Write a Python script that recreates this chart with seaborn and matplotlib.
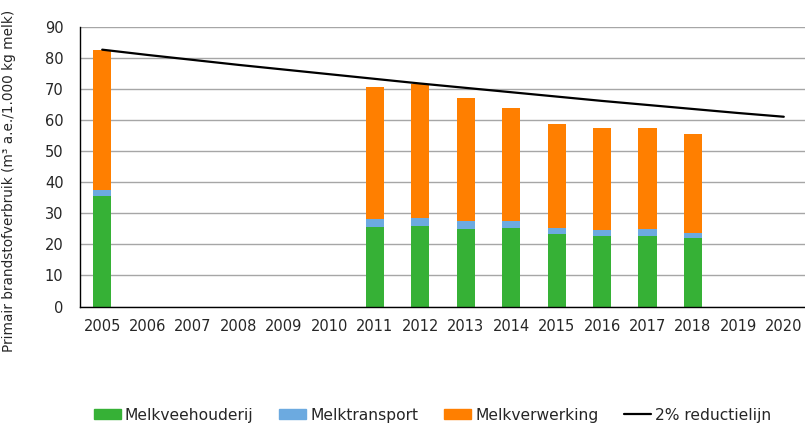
import matplotlib
matplotlib.use('Agg')
import matplotlib.pyplot as plt
import matplotlib.patches as mpatches
import matplotlib.lines as mlines
import numpy as np
import pandas as pd
import seaborn as sns

# data
jaren = [2005, 2011, 2012, 2013, 2014, 2015, 2016, 2017, 2018]
melkveehouderij = [35.6, 25.7, 26.0, 25.0, 25.4, 23.3, 22.8, 22.8, 21.9]
melktransport = [2.0, 2.4, 2.4, 2.5, 2.1, 2.1, 1.9, 2.2, 1.7]
melkverwerking = [45.1, 42.7, 43.3, 39.6, 36.5, 33.5, 32.8, 32.5, 31.9]

lijn_jaren = list(range(2005, 2021))
reductielijn = [82.7, 81.0, 79.4, 77.8, 76.3, 74.8, 73.3, 71.8, 70.4, 69.0,
                67.6, 66.2, 64.9, 63.6, 62.3, 61.1]

groen = '#36B136'
blauw = '#6CAAE0'
oranje = '#FF7F00'

df = pd.DataFrame({'jaar': jaren, 'veeh': melkveehouderij,
                   'trans': melktransport, 'verw': melkverwerking})
df['stap1'] = df['veeh']
df['stap2'] = df['veeh'] + df['trans']
df['stap3'] = df['stap2'] + df['verw']
lijn = pd.DataFrame({'jaar': lijn_jaren, 'waarde': reductielijn})

sns.set_style('white')
plt.rcParams['font.family'] = ['DejaVu Sans']

fig = plt.figure(figsize=(8.05, 4.23), dpi=100)
ax = fig.add_axes([79.5 / 805, 1 - 306.5 / 423, 727 / 805, 279.5 / 423])

for kol, kleur in [('stap3', oranje), ('stap2', blauw), ('stap1', groen)]:
    sns.barplot(data=df, x='jaar', y=kol, native_scale=True, orient='x',
                color=kleur, saturation=1, width=0.4, linewidth=0, ax=ax)

sns.lineplot(data=lijn, x='jaar', y='waarde', color='black', linewidth=1.6, ax=ax)

ax.set_xlim(2004.5, 2020.5)
ax.set_ylim(0, 90)
ax.set_yticks(range(0, 91, 10))
ax.set_xticks(lijn_jaren)
ax.set_xticks(np.arange(2004.5, 2021, 1), minor=True)
ax.tick_params(axis='x', which='major', length=0, labelsize=10.5, pad=9)
ax.tick_params(axis='x', which='minor', length=5, width=1, direction='out', color='black')
ax.tick_params(axis='y', length=4.5, width=1, direction='out', color='black', labelsize=10.5, pad=7)
ax.yaxis.grid(True, color='#A6A6A6', linewidth=1)
ax.set_axisbelow(True)
ax.set_xlabel('')
ax.set_ylabel('Primair brandstofverbruik (m³ a.e./1.000 kg melk)', fontsize=9.8)
ax.yaxis.set_label_coords(-0.087, 0.451)
for s in ['top', 'right']:
    ax.spines[s].set_visible(False)
for s in ['left', 'bottom']:
    ax.spines[s].set_color('black')
    ax.spines[s].set_linewidth(1)

handles = [mpatches.Patch(color=groen, label='Melkveehouderij'),
           mpatches.Patch(color=blauw, label='Melktransport'),
           mpatches.Patch(color=oranje, label='Melkverwerking'),
           mlines.Line2D([], [], color='black', linewidth=1.6, label='2% reductielijn')]
fig.legend(handles=handles, loc='center', bbox_to_anchor=(432.5 / 805, 1 - 415 / 423),
           ncol=4, frameon=False, fontsize=11.2, handlelength=1.75, handleheight=0.55,
           handletextpad=0.25, columnspacing=1.65, borderaxespad=0, borderpad=0)

fig.savefig('out.png', dpi=100)
